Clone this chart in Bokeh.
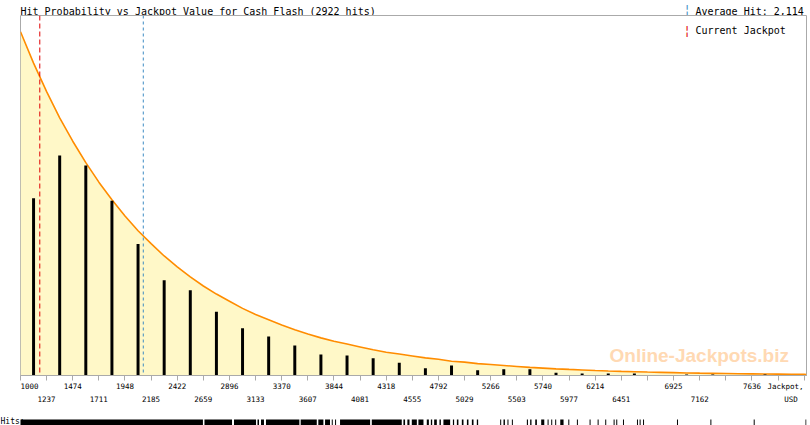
from bokeh.plotting import figure
from bokeh.models import Range1d, FixedTicker, LinearAxis, Span, Label
from bokeh.embed import file_html
from bokeh.resources import INLINE

# ---------------- data ----------------
title_text = "Hit Probability vs Jackpot Value for Cash Flash (2922 hits)"
average_hit = 2114
average_text = "Average Hit: 2,114"
current_jackpot = 1175
current_text = "Current Jackpot"
x_min, x_max = 1000, 8131

bin_edges = [1000, 1237, 1474, 1711, 1948, 2185, 2422, 2659, 2896, 3133, 3370,
             3607, 3844, 4081, 4318, 4555, 4792, 5029, 5266, 5503, 5740, 5977,
             6214, 6451, 6688, 6925, 7162, 7399, 7636, 7873, 8110]
bin_hits = [372, 462, 441, 367, 276, 200, 179, 134, 99, 82, 63, 44, 42, 36, 27,
            15, 21, 11, 13, 13, 6, 4, 4, 4, 0, 2, 2, 0, 2, 0, 1]

row1_ticks = [1000, 1474, 1948, 2422, 2896, 3370, 3844, 4318, 4792, 5266, 5740,
              6214, 6925, 7636]
row2_ticks = [1237, 1711, 2185, 2659, 3133, 3607, 4081, 4555, 5029, 5503, 5977,
              6451, 7162]
axis_title_1 = "Jackpot,"
axis_title_2 = "USD"

# fitted curve read at every half bin from 1000 to 8110, then at 8131
curve_values = [722, 656, 596, 541, 492, 447, 406, 369, 335, 304, 277, 251, 228,
                207, 188, 171, 156, 141, 128, 117, 106, 96, 87, 79, 72, 66, 60,
                54, 49, 45, 41, 37, 34, 30, 28, 25, 23, 21, 19, 17, 15.5, 14,
                12.8, 11.7, 10.6, 9.6, 8.7, 8, 7.2, 6.6, 6, 5.4, 4.9, 4.5, 4.1,
                3.7, 3.4, 3.0, 2.8, 2.5, 2.3, 2.2]

# individual hits (rug), as runs of jackpot values
rug_start = [1000, 2669, 2937, 3150, 3182, 3227, 3542, 3702, 3763, 3824, 3854,
             3899, 4187, 4474, 4510, 4550, 4610, 4686, 4723, 4753, 4801, 4837,
             4923, 4959, 5004, 5050, 5095, 5140, 5352, 5382, 5418, 5458, 5594,
             5624, 5670, 5724, 5782, 5815, 5851, 5897, 5970, 6048, 6163, 6236,
             6305, 6381, 6405, 6466, 6593, 6617, 6648, 6956, 7259, 7652, 8122]
rug_end = [2655, 2919, 3137, 3164, 3209, 3530, 3688, 3748, 3808, 3833, 3863,
           4172, 4459, 4489, 4529, 4596, 4656, 4705, 4735, 4777, 4814, 4898,
           4934, 4973, 5019, 5064, 5110, 5152, 5361, 5395, 5427, 5467, 5604,
           5636, 5685, 5752, 5782, 5815, 5851, 5927, 5970, 6048, 6163, 6236,
           6305, 6381, 6405, 6466, 6593, 6617, 6648, 6956, 7259, 7652, 8122]

# ---------------- layout constants ----------------
MONO = "DejaVu Sans Mono"
W = 810
TOP = 14           # height of the header band above the main plot
H0 = 30            # header figure (lies under the main plot)
H1 = 398           # main plot (frame 1..361)
H2 = 13            # rug strip
LEFT, RIGHT = 20, 4
FRAME_H = 360
JACKPOT_LABEL_AT = 7940   # where the axis title sits along x
USD_LABEL_AT = 7990

# ---------------- derived ----------------
bin_right = bin_edges[1:] + [x_max]
bar_x = [(a + b) / 2 for a, b in zip(bin_edges, bin_right)]
curve_x = []
for a, b in zip(bin_edges, bin_right):
    curve_x.append(a)
    if b - a > 100:
        curve_x.append((a + b) / 2)
curve_x.append(x_max)
curve_x = curve_x[:len(curve_values)]


def lab(fig, text, x, y_from_top, size, color="black", font=MONO,
        align="left", style="normal"):
    fig.add_layout(Label(x=x, y=y_from_top, x_units="canvas",
                         y_units="canvas", text=text, text_font=font,
                         text_font_size=size, text_color=color,
                         text_align=align, text_baseline="alphabetic",
                         text_font_style=style))


def bare(fig):
    fig.outline_line_color = None
    fig.grid.visible = False
    fig.background_fill_color = "white"
    fig.border_fill_color = "white"


def place(fig, top):
    fig.styles = {"position": "absolute", "left": "0px", "top": f"{top}px"}


# ---------------- header ----------------
h0 = figure(width=W, height=H0, x_range=Range1d(0, W), y_range=Range1d(0, H0),
            output_backend="svg", toolbar_location=None, title=None,
            x_axis_location=None, y_axis_location=None,
            min_border_left=0, min_border_right=0, min_border_top=0,
            min_border_bottom=0)
bare(h0)
place(h0, 0)
lab(h0, title_text, 20, 11, "10px")
lab(h0, average_text, 695, 11, "10px")
lab(h0, "\u00a6", 686.5, 9, "12px", color="#3D8CC4", align="center")

# ---------------- main plot ----------------
p = figure(width=W, height=H1, x_range=Range1d(x_min, x_max),
           y_range=Range1d(0, 756), output_backend="svg", toolbar_location=None,
           title=None, y_axis_location=None,
           min_border_left=LEFT, min_border_right=RIGHT, min_border_top=1,
           min_border_bottom=H1 - 1 - FRAME_H)
p.outline_line_color = "#AAAAAA"
p.grid.visible = False
p.background_fill_color = "white"
p.border_fill_color = None
place(p, TOP)

p.varea(x=curve_x, y1=[0] * len(curve_x), y2=curve_values, fill_color="#FFF8C8")
p.line(x=curve_x, y=curve_values, line_color="#FF8C00", line_width=1.6)
p.vbar(x=bar_x, width=27, top=bin_hits, bottom=0, fill_color="black",
       line_color=None)

p.add_layout(Span(location=current_jackpot, dimension="height",
                  line_color="#E00000", line_width=1, line_dash="5 3"))
p.add_layout(Span(location=average_hit, dimension="height",
                  line_color="#3D8CC4", line_width=1, line_dash="3 3"))

# axis 1: tick marks only
ax = p.xaxis[0]
ax.ticker = FixedTicker(ticks=bin_edges)
ax.major_label_overrides = {t: "" for t in bin_edges}
ax.major_label_text_font_size = "0px"
ax.major_label_standoff = 0
ax.axis_line_color = "#AAAAAA"
ax.major_tick_line_color = "#AAAAAA"
ax.major_tick_in = 0
ax.major_tick_out = 5
ax.minor_tick_line_color = None


def label_axis(ticks, overrides, standoff):
    a = LinearAxis(ticker=FixedTicker(ticks=ticks))
    a.major_label_overrides = overrides
    a.axis_line_color = None
    a.major_tick_line_color = None
    a.major_tick_in = 0
    a.major_tick_out = 0
    a.minor_tick_line_color = None
    a.major_label_text_font = MONO
    a.major_label_text_font_size = "7.5px"
    a.major_label_text_color = "black"
    a.major_label_standoff = standoff
    p.add_layout(a, "below")
    return a


label_axis(row1_ticks + [JACKPOT_LABEL_AT],
           {row1_ticks[0]: "\u00a0\u00a0\u00a0\u00a0" + str(row1_ticks[0]),
            JACKPOT_LABEL_AT: axis_title_1}, 1)
label_axis(row2_ticks + [USD_LABEL_AT], {USD_LABEL_AT: axis_title_2}, 1)

lab(p, current_text, 695, 16, "10px")
lab(p, "\u00a6", 686.5, 16, "12px", color="#E00000", align="center")
lab(p, "Online-Jackpots.biz", 609, 341, "19px", color="#FFD9B3",
    font="Liberation Sans", style="bold")

# ---------------- rug of hits ----------------
px_per_usd = (W - LEFT - RIGHT) / (x_max - x_min)
p2 = figure(width=W, height=H2,
            x_range=Range1d(x_min - LEFT / px_per_usd, x_max),
            y_range=Range1d(0, H2), output_backend="svg",
            toolbar_location=None, title=None,
            x_axis_location=None, y_axis_location=None,
            min_border_left=0, min_border_right=RIGHT, min_border_top=0,
            min_border_bottom=0)
bare(p2)
place(p2, TOP + H1)
p2.quad(left=rug_start, right=[max(e, s + 9) for s, e in zip(rug_start, rug_end)],
        bottom=0, top=6, fill_color="black", line_color=None)
lab(p2, "Hits:", 0, 9, "8px")

open("out.html", "w").write(file_html([h0, p, p2], INLINE))
